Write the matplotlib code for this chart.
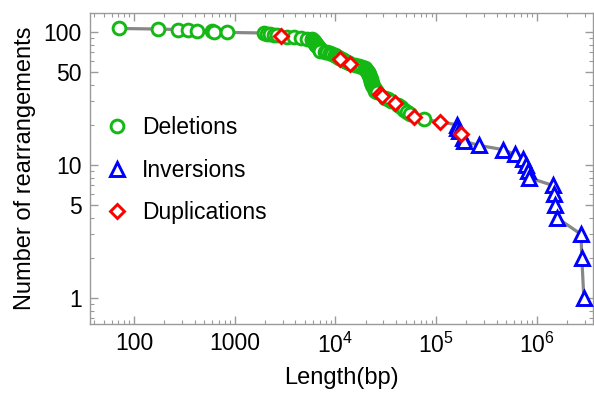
import numpy as np
import matplotlib
matplotlib.use("Agg")
import matplotlib.pyplot as plt
from matplotlib.ticker import FixedLocator, FixedFormatter, NullFormatter

plt.rcParams["font.family"] = ["Liberation Sans", "DejaVu Sans"]
plt.rcParams["mathtext.fontset"] = "custom"
plt.rcParams["mathtext.rm"] = "Liberation Sans"

# lengths (bp), per rearrangement type
deletions = [71, 174, 276, 341, 420, 591, 622, 832,
             1950, 2100, 2250, 2450, 2650,
             3340, 3900, 4600, 5200, 5800,
             5900, 6000, 6100, 6150, 6200, 6250, 6300, 6400, 6500, 6600, 6700, 6800, 6900,
             6950, 7000, 7100, 7800, 8300, 8800, 9300, 9800, 10200, 10500, 10800,
             11500, 12000, 12500, 13000, 13500,
             15500, 17000, 18500, 19500, 20000, 20500, 21000, 21200, 21500, 21700,
             22000, 22200, 22400, 22600, 22800, 23000, 23200, 23500, 24000,
             24500, 25000, 26000,
             31000, 33000, 36000,
             42000, 45000, 48000, 51000, 55000,
             75000]
inversions = [160000, 163000, 167000, 184000, 190000, 266000, 460000, 606000,
              730000, 780000, 810000, 830000, 1440000, 1480000, 1510000, 1580000,
              2750000, 2800000, 2930000]
duplications = [2870, 11200, 13900, 27500, 29000, 39000, 60000, 110000, 178000]

# number of rearrangements at least as long (rank from the longest)
all_len = np.sort(np.array(deletions + inversions + duplications))[::-1]
ranks = np.arange(1, len(all_len) + 1)
rank_of = dict(zip(all_len, ranks))

fig = plt.figure(figsize=(5.94, 4.01), dpi=100)
ax = fig.add_axes([0.1515, 0.192, 0.8465, 0.776])

ax.plot(all_len, ranks, color="#878787", lw=2.3, zorder=1)

green, blue, red = "#14b814", "#0000ff", "#ff0000"
ax.plot(deletions, [rank_of[v] for v in deletions], "o", ms=9.2, mew=2.1,
        mec=green, mfc="white", ls="none", label="Deletions", zorder=2)
ax.plot(inversions, [rank_of[v] for v in inversions], "^", ms=10, mew=2.1,
        mec=blue, mfc="white", ls="none", label="Inversions", zorder=3)
ax.plot(duplications, [rank_of[v] for v in duplications], "D", ms=7.3, mew=2.1,
        mec=red, mfc="white", ls="none", label="Duplications", zorder=4)

ax.set_xscale("log")
ax.set_yscale("log")
ax.set_xlim(36.5, 3.6e6)
ax.set_ylim(0.634, 139)

xt = [100, 1000, 1e4, 1e5, 1e6]
xl = ["100", "1000", r"$\mathregular{10^{4}}$", r"$\mathregular{10^{5}}$", r"$\mathregular{10^{6}}$"]
ax.xaxis.set_major_locator(FixedLocator(xt))
ax.xaxis.set_major_formatter(FixedFormatter(xl))
xminor = [m * 10.0 ** e for e in range(1, 7) for m in range(2, 10)]
ax.xaxis.set_minor_locator(FixedLocator(xminor))
ax.xaxis.set_minor_formatter(NullFormatter())

yt = [1, 5, 10, 50, 100]
ax.yaxis.set_major_locator(FixedLocator(yt))
ax.yaxis.set_major_formatter(FixedFormatter([str(v) for v in yt]))
yminor = [m * 10.0 ** e for e in range(-1, 3) for m in range(2, 10) if m != 5]
ax.yaxis.set_minor_locator(FixedLocator(yminor))
ax.yaxis.set_minor_formatter(NullFormatter())

for s in ax.spines.values():
    s.set_color("#9a9a9a")
    s.set_linewidth(1.0)
ax.tick_params(which="both", direction="in", top=True, right=True,
               color="#9a9a9a", labelsize=16.5, labelcolor="black")
ax.tick_params(which="major", length=6, width=1.0, pad=6)
ax.tick_params(which="minor", length=3, width=0.8)

ax.set_xlabel("Length(bp)", fontsize=17, labelpad=7)
ax.set_ylabel("Number of rearrangements", fontsize=17, labelpad=5)

ax.legend(loc="upper left", bbox_to_anchor=(0.035, 0.668), frameon=False,
          fontsize=16.5, numpoints=1, handlelength=0.8, handletextpad=0.7,
          labelspacing=0.85, borderpad=0, borderaxespad=0)

fig.savefig("out.png", dpi=100)
